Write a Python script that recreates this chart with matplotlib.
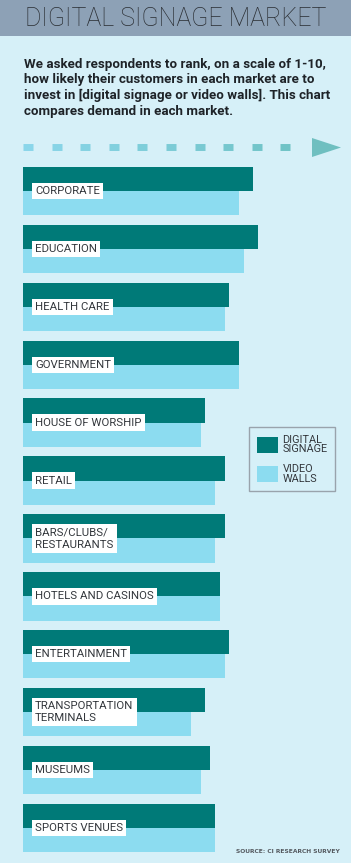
import matplotlib.pyplot as plt
import numpy as np
from matplotlib.patches import Rectangle, Polygon
from matplotlib.lines import Line2D

markets = ['CORPORATE', 'EDUCATION', 'HEALTH CARE', 'GOVERNMENT', 'HOUSE OF WORSHIP',
           'RETAIL', 'BARS/CLUBS/\nRESTAURANTS', 'HOTELS AND CASINOS', 'ENTERTAINMENT',
           'TRANSPORTATION\nTERMINALS', 'MUSEUMS', 'SPORTS VENUES']
digital_signage = [4.8, 4.9, 4.3, 4.5, 3.8, 4.2, 4.2, 4.1, 4.3, 3.8, 3.9, 4.0]
video_walls = [4.5, 4.6, 4.2, 4.5, 3.7, 4.0, 4.0, 4.1, 4.2, 3.5, 3.7, 4.0]
series_names = ['DIGITAL\nSIGNAGE', 'VIDEO\nWALLS']

BG = '#d6f0f8'
HEADER = '#8da1b6'
TEAL = '#007a78'
LIGHT = '#8cdcf0'
DARK = '#2a2e33'

W, H = 351, 863
def fx(x):
    return x / W
def fy(y):
    return 1 - y / H

fig = plt.figure(figsize=(W / 100, H / 100), dpi=100)
fig.patch.set_facecolor(BG)

# 上部の帯とタイトル
fig.add_artist(Rectangle((0, fy(36)), 1, 36 / H, transform=fig.transFigure,
                         facecolor=HEADER, edgecolor='none'))
fig.text(fx(25), fy(19), 'DIGITAL SIGNAGE MARKET', fontsize=18.0, family='Roboto',
         weight='light', color=DARK, va='center', ha='left')

subtitle = ('We asked respondents to rank, on a scale of 1-10,\n'
            'how likely their customers in each market are to\n'
            'invest in [digital signage or video walls]. This chart\n'
            'compares demand in each market.')
fig.text(fx(24), fy(58), subtitle, fontsize=9.6, family='Roboto', weight='bold',
         color='#1e2328', va='top', ha='left', linespacing=1.25)

# 点線の矢印
for k in range(10):
    x0 = 23 + k * 28.6
    t = k / 9
    c = np.array([0x8a, 0xd6, 0xea]) * (1 - t) + np.array([0x70, 0xc3, 0xc6]) * t
    fig.add_artist(Line2D([fx(x0), fx(x0 + 10)], [fy(147.5), fy(147.5)],
                          transform=fig.transFigure, color=c / 255, lw=5.0,
                          solid_capstyle='butt'))
fig.add_artist(Polygon([(fx(312), fy(138)), (fx(341), fy(147.5)), (fx(312), fy(157))],
                       closed=True, transform=fig.transFigure,
                       facecolor='#6fbfc0', edgecolor='none'))

# 棒グラフ
ax = fig.add_axes([fx(23), fy(852), 317 / W, 685 / H])
ax.set_facecolor(BG)
h = 0.418
y = np.arange(len(markets))
b1 = ax.barh(y - h / 2, digital_signage, height=h, color=TEAL, label=series_names[0])
b2 = ax.barh(y + h / 2, video_walls, height=h, color=LIGHT, label=series_names[1])
ax.set_ylim(len(markets) - 1 + h, -h)
ax.set_xlim(0, 317 / 48)
ax.axis('off')

for i, m in enumerate(markets):
    ax.text(0.25, i, m, va='center', ha='left', fontsize=8.2, family='Roboto',
            color='#33373c', linespacing=1.3,
            bbox=dict(facecolor='white', edgecolor='none', boxstyle='square,pad=0.28'))

leg = fig.legend(handles=[b1, b2], labels=series_names, loc='upper left',
                 bbox_to_anchor=(fx(249.5), fy(427)), frameon=True, fancybox=False,
                 facecolor=BG, edgecolor='#8a9099',
                 prop={'family': 'Roboto', 'size': 7.8},
                 handlelength=1.9, handleheight=1.9, labelspacing=0.9,
                 borderpad=0.7, handletextpad=0.45, borderaxespad=0)
leg.get_frame().set_linewidth(1.0)
for t in leg.get_texts():
    t.set_color('#33373c')
    t.set_linespacing(0.95)

fig.text(fx(340), fy(851), 'SOURCE: CI RESEARCH SURVEY', ha='right', va='center',
         fontsize=4.3, weight='bold', color='#555a60')

fig.savefig('out.png', dpi=100, facecolor=BG)
